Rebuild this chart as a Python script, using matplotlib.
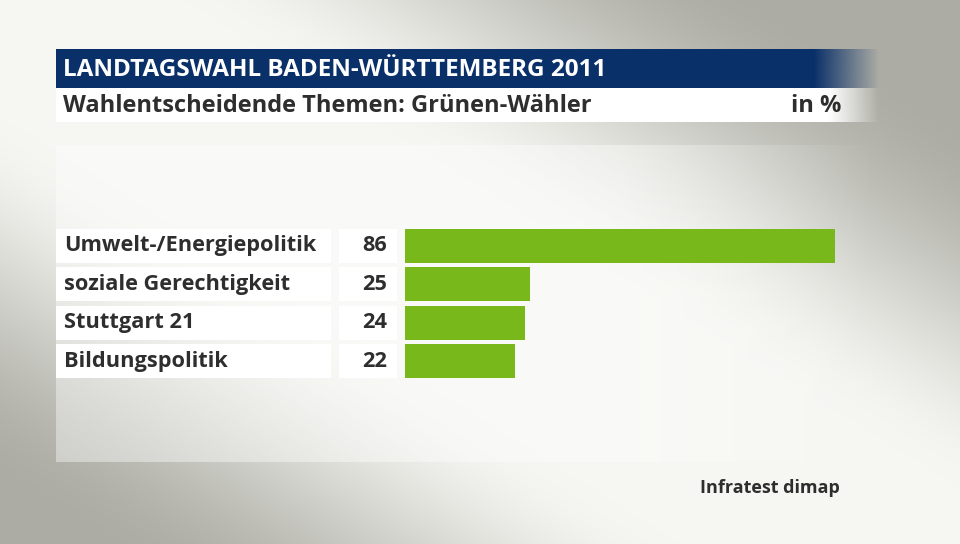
import numpy as np
import matplotlib
matplotlib.use("Agg")
import matplotlib.pyplot as plt
from matplotlib.patches import Rectangle
from matplotlib.transforms import blended_transform_factory

title = "LANDTAGSWAHL BADEN-WÜRTTEMBERG 2011"
subtitle = "Wahlentscheidende Themen: Grünen-Wähler"
unit = "in %"
source = "Infratest dimap"
categories = ["Umwelt-/Energiepolitik", "soziale Gerechtigkeit", "Stuttgart 21", "Bildungspolitik"]
values = [86, 25, 24, 22]

W, H = 960, 544
fig = plt.figure(figsize=(W / 100, H / 100), dpi=100)
FONT = "Open Sans"
TXT = "#2e2e2e"

# background: wide diagonal light band from top-left to bottom-right
bg = fig.add_axes([0, 0, 1, 1])
bg.set_xlim(0, W)
bg.set_ylim(H, 0)
bg.axis("off")
xx, yy = np.meshgrid(np.linspace(0, 1, 480), np.linspace(0, 1, 272))
light = np.array([0.965, 0.965, 0.95])
dark = np.array([0.675, 0.675, 0.645])
t = np.clip((np.abs(xx - yy * 0.9) - 0.18) * 1.6, 0, 1)
t = t * t * (3 - 2 * t)
img = light[None, None, :] * (1 - t[..., None]) + dark[None, None, :] * t[..., None]
bg.imshow(img, extent=(0, W, H, 0), aspect="auto", zorder=0, interpolation="bilinear")

# lighter panel behind the chart, fading out to the right
pan = np.ones((2, 300, 4))
xs = np.linspace(56, 880, 300)
pan[..., 3] = (0.4 * np.clip((880 - xs) / (880 - 620), 0, 1))[None, :]
bg.imshow(pan, extent=(56, 880, 462, 145), aspect="auto", zorder=1, interpolation="bilinear")

def fade_bar(x0, x1, y0, y1, color, fade_start):
    n = 400
    arr = np.zeros((2, n, 4))
    arr[..., :3] = matplotlib.colors.to_rgb(color)
    xs = np.linspace(x0, x1, n)
    arr[..., 3] = np.clip((x1 - xs) / (x1 - fade_start), 0, 1)[None, :]
    bg.imshow(arr, extent=(x0, x1, y1, y0), aspect="auto", zorder=2, interpolation="bilinear")

fade_bar(56, 880, 49, 88, "#0a3069", 815)
fade_bar(56, 880, 88, 122, "#ffffff", 830)
bg.text(63, 69.5, title, color="white", fontsize=17.5, fontweight="bold", family=FONT,
        va="center", ha="left", zorder=3)
bg.text(63, 105.5, subtitle, color=TXT, fontsize=17, fontweight="bold", family=FONT,
        va="center", ha="left", zorder=3)
bg.text(841, 105.5, unit, color=TXT, fontsize=17, fontweight="bold", family=FONT,
        va="center", ha="right", zorder=3)
bg.text(840, 488, source, color=TXT, fontsize=13, fontweight="bold", family=FONT,
        va="center", ha="right", zorder=3)

# bar axes: x 0..86 mapped to px 405..835
px0, px1 = 405, 835
row_top, pitch = 226.8, 38.4
n = len(categories)
ax_bottom_px = row_top + n * pitch
ax = fig.add_axes([px0 / W, 1 - ax_bottom_px / H, (px1 - px0) / W, n * pitch / H])
ax.patch.set_alpha(0)
ax.set_xlim(0, 86)
ax.set_ylim(n - 0.5, -0.5)
ax.axis("off")
ypos = np.arange(n)
bh = 0.885
ax.barh(ypos, values, height=bh, color="#78b81a", zorder=3)

tr = blended_transform_factory(fig.transFigure, ax.transData)
for i, (c, v) in enumerate(zip(categories, values)):
    ax.add_patch(Rectangle((56 / W, i - bh / 2), (331 - 56) / W, bh, transform=tr,
                           facecolor="white", edgecolor="none", clip_on=False, zorder=2))
    ax.add_patch(Rectangle((339 / W, i - bh / 2), (397 - 339) / W, bh, transform=tr,
                           facecolor="white", edgecolor="none", clip_on=False, zorder=2))
    ax.text(64 / W, i, c, transform=tr, fontsize=15.7, fontweight="bold", family=FONT,
            color=TXT, va="center", ha="left", zorder=4)
    ax.text(387 / W, i, f"{v}", transform=tr, fontsize=15.7, fontweight="bold", family=FONT,
            color=TXT, va="center", ha="right", zorder=4)

fig.savefig("out.png", dpi=100)
